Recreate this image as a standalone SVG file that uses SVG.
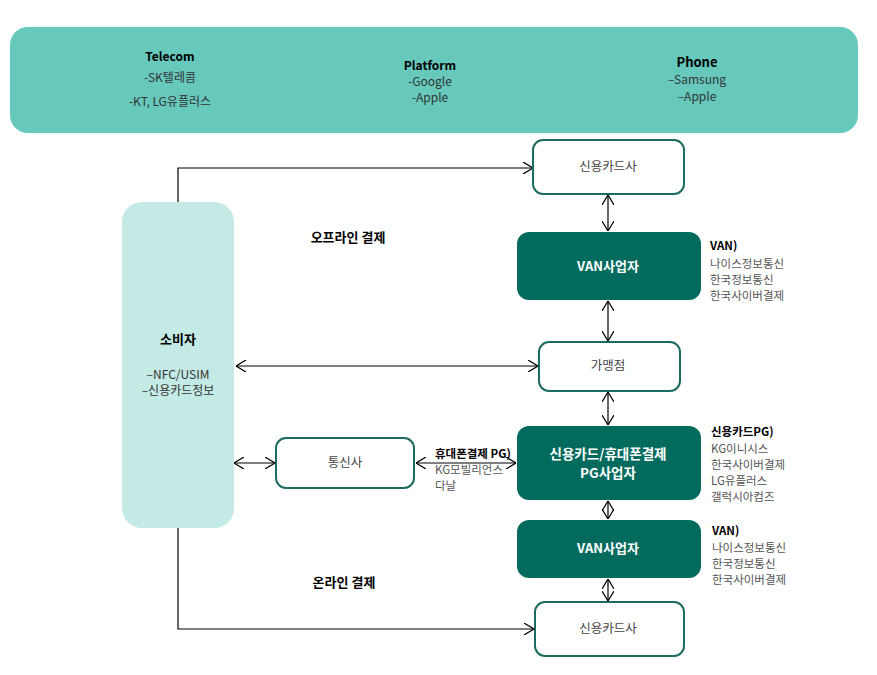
<svg xmlns="http://www.w3.org/2000/svg" width="877" height="675" viewBox="0 0 877 675">
<style>
text{font-family:"Noto Sans CJK KR","Noto Sans",sans-serif;}
.t{font-size:12px;fill:#333;text-anchor:middle;}
.tb{font-size:12px;fill:#000;font-weight:bold;text-anchor:middle;}
.box{fill:#fff;stroke:#1d6b5f;stroke-width:2;}
.dark{fill:#036b5e;}
.wt{font-size:13px;fill:#fff;font-weight:bold;text-anchor:middle;}
.bt{font-size:12.5px;fill:#444;text-anchor:middle;}
.lb{font-size:11.5px;fill:#000;font-weight:bold;}
.l{font-size:11.5px;fill:#555;}
.c{fill:none;stroke:#000;stroke-width:1.2;}
</style>
<defs>
<marker id="a" viewBox="0 0 10 12" refX="10" refY="6" markerWidth="10" markerHeight="12" markerUnits="userSpaceOnUse" orient="auto-start-reverse">
<path d="M0,0 L10,6 L0,12" fill="none" stroke="#000" stroke-width="1.2"/>
</marker>
</defs>
<g id="banner">
<rect x="10" y="27" width="848" height="106" rx="18" fill="#66c9bc"/>
<text class="tb" x="170" y="61">Telecom</text>
<text class="t" x="170" y="82">-SK텔레콤</text>
<text class="t" x="170" y="106">-KT, LG유플러스</text>
<text class="tb" x="430" y="70">Platform</text>
<text class="t" x="430" y="86">-Google</text>
<text class="t" x="430" y="102">-Apple</text>
<text class="tb" x="697" y="67" style="font-size:13px">Phone</text>
<text class="t" x="697" y="84">–Samsung</text>
<text class="t" x="697" y="101">–Apple</text>
</g>
<g id="connectors">
<polyline class="c" points="178,202 178,168 533,168" marker-end="url(#a)"/>
<line class="c" x1="608" y1="195" x2="608" y2="231" marker-start="url(#a)" marker-end="url(#a)"/>
<line class="c" x1="608" y1="301" x2="608" y2="341" marker-start="url(#a)" marker-end="url(#a)"/>
<line class="c" x1="236" y1="366" x2="538" y2="366" marker-start="url(#a)" marker-end="url(#a)"/>
<line class="c" x1="608" y1="392" x2="608" y2="425" marker-start="url(#a)" marker-end="url(#a)"/>
<line class="c" x1="416" y1="463" x2="516" y2="463" marker-start="url(#a)" marker-end="url(#a)"/>
<line class="c" x1="234" y1="463" x2="275" y2="463" marker-start="url(#a)" marker-end="url(#a)"/>
<line class="c" x1="608" y1="501" x2="608" y2="519" marker-start="url(#a)" marker-end="url(#a)"/>
<line class="c" x1="608" y1="579" x2="608" y2="601" marker-start="url(#a)" marker-end="url(#a)"/>
<polyline class="c" points="178,528 178,629 534,629" marker-end="url(#a)"/>
</g>
<g id="consumer">
<rect x="122" y="202" width="112" height="326" rx="20" fill="#c3eae5"/>
<text class="tb" x="178" y="344" style="font-size:13px">소비자</text>
<text class="t" x="178" y="379">–NFC/USIM</text>
<text class="t" x="178" y="395">–신용카드정보</text>
</g>
<g id="card1">
<rect class="box" x="533" y="140" width="151" height="54" rx="10"/>
<text class="bt" x="608" y="171">신용카드사</text>
</g>
<g id="van1">
<rect class="dark" x="517" y="232" width="184" height="68" rx="12"/>
<text class="wt" x="608" y="271">VAN사업자</text>
<text class="lb" x="710" y="250">VAN)</text>
<text class="l" x="710" y="268">나이스정보통신</text>
<text class="l" x="710" y="284">한국정보통신</text>
<text class="l" x="710" y="300">한국사이버결제</text>
</g>
<g id="merchant">
<rect class="box" x="539" y="342" width="141" height="49" rx="10"/>
<text class="bt" x="608" y="370">가맹점</text>
</g>
<g id="pg">
<rect class="dark" x="517" y="426" width="184" height="74" rx="12"/>
<text class="wt" x="608" y="459" style="font-size:13.5px">신용카드/휴대폰결제</text>
<text class="wt" x="608" y="478" style="font-size:13.5px">PG사업자</text>
<text class="lb" x="711" y="436">신용카드PG)</text>
<text class="l" x="711" y="453">KG이니시스</text>
<text class="l" x="711" y="469">한국사이버결제</text>
<text class="l" x="711" y="485">LG유플러스</text>
<text class="l" x="711" y="501">갤럭시아컴즈</text>
</g>
<g id="telco">
<rect class="box" x="276" y="438" width="138" height="50" rx="10"/>
<text class="bt" x="345" y="467">통신사</text>
<text class="lb" x="435" y="458">휴대폰결제 PG)</text>
<text class="l" x="435" y="474">KG모빌리언스</text>
<text class="l" x="435" y="490">다날</text>
</g>
<g id="van2">
<rect class="dark" x="517" y="520" width="184" height="58" rx="12"/>
<text class="wt" x="608" y="553">VAN사업자</text>
<text class="lb" x="712" y="535">VAN)</text>
<text class="l" x="712" y="552">나이스정보통신</text>
<text class="l" x="712" y="568">한국정보통신</text>
<text class="l" x="712" y="584">한국사이버결제</text>
</g>
<g id="card2">
<rect class="box" x="535" y="602" width="149" height="54" rx="10"/>
<text class="bt" x="608" y="633">신용카드사</text>
</g>
<g id="labels">
<text class="tb" x="348" y="242" style="font-size:13px">오프라인 결제</text>
<text class="tb" x="344" y="587" style="font-size:13px">온라인 결제</text>
</g>
</svg>
